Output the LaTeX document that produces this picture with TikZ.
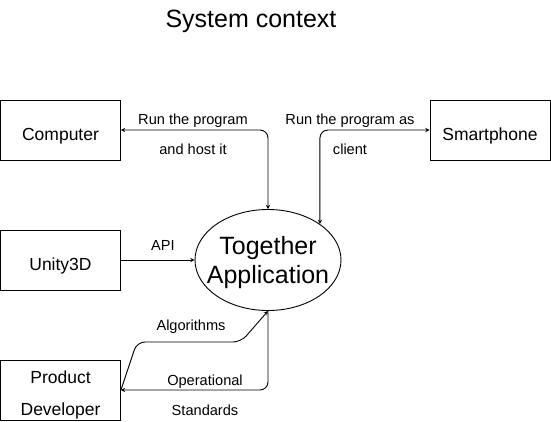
\documentclass[tikz,border=0pt]{standalone}
\usepackage{fontspec}
\setmainfont{Liberation Sans}
\usetikzlibrary{shapes.geometric, arrows}
\tikzstyle{box} = [rectangle, 
minimum width=120pt, 
minimum height=60pt, 
text centered, 
text height=20pt, 
text depth=0pt, 
draw=black, 
line width=0.9pt, 
font=\fontsize{17.5}{32}\selectfont]
\tikzstyle{appellipse} = [ellipse, 
minimum width=146pt, 
minimum height=101pt, 
inner xsep=-10pt, 
inner ysep=0pt, 
text height=46pt, 
text depth=0pt, 
align=center, 
draw=black, 
line width=0.9pt, 
font=\fontsize{25}{29}\selectfont]
\tikzstyle{edgelabel} = [anchor=base, inner sep=0pt, font=\fontsize{14.6}{17}\selectfont]
\tikzstyle{arrow} = [line width=0.9pt,->,>=stealth, rounded corners=8pt]
\tikzstyle{dblarrow} = [line width=0.9pt,<->,>=stealth, rounded corners=8pt]
\begin{document}
\begin{tikzpicture}[x=1pt, y=-1pt, node distance=130pt]
\useasboundingbox (0,0) rectangle (551,421);

% Nodes
\node (title) [anchor=base, inner sep=0pt] at (251,27) {\fontsize{25}{29}\selectfont System context};
\node (computer) [box] at (60.5,130) {Computer};
\node (unity) [box, below of=computer] {Unity3D};
\node (developer) [box, below of=unity, align=center, text height=50pt, inner ysep=2pt] {Product\\Developer};
\node (smartphone) [box] at (490,130) {Smartphone};
\node (app) [appellipse] at (268,260) {Together\\Application};

% Labels
\node (hosttop) [edgelabel] at (193,124) {Run the program};
\node (hostbot) [edgelabel] at (193,154) {and host it};
\node (clienttop) [edgelabel] at (350,124) {Run the program as};
\node (clientbot) [edgelabel] at (350,154) {client};
\node (api) [edgelabel] at (163,250) {API};
\node (algo) [edgelabel] at (191,330) {Algorithms};
\node (opertop) [edgelabel] at (205,385) {Operational};
\node (operbot) [edgelabel] at (205,415) {Standards};

% Arrows
\draw [dblarrow] (computer) -| (app);
\draw [dblarrow] (smartphone) -| (app.north east);
\draw [arrow] (unity) -- (app);
\draw [arrow] (developer.east) -- ++(16,-48) -- ++(104,0) -- (app.south);
\draw [arrow] (app.south) |- (developer.east);

\end{tikzpicture}
\end{document}
